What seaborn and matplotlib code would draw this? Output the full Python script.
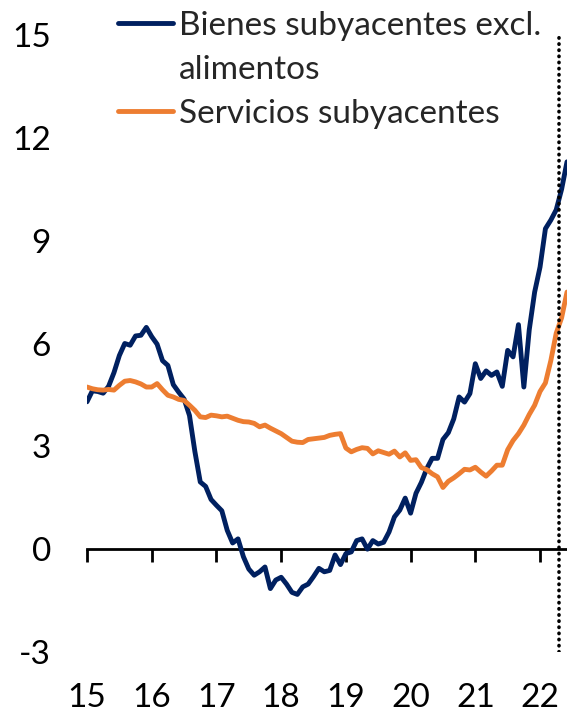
import numpy as np
import pandas as pd
import seaborn as sns
import matplotlib.pyplot as plt
from matplotlib.lines import Line2D

# Variación anual (%), mensual desde enero 2015
bienes = [4.3, 4.62, 4.6, 4.55, 4.75, 5.15, 5.65, 6.0, 5.95, 6.22, 6.24, 6.47,
          6.2, 5.98, 5.5, 5.36, 4.8, 4.58, 4.38, 3.9, 2.85, 1.96, 1.83, 1.45,
          1.28, 1.12, 0.55, 0.18, 0.3, -0.22, -0.58, -0.76, -0.66, -0.52, -1.15, -0.9,
          -0.82, -1.02, -1.26, -1.32, -1.1, -1.02, -0.8, -0.56, -0.66, -0.62, -0.17, -0.45,
          -0.13, -0.08, 0.25, 0.3, 0.0, 0.25, 0.15, 0.2, 0.5, 0.94, 1.14, 1.49,
          1.05, 1.63, 1.95, 2.35, 2.65, 2.65, 3.2, 3.4, 3.8, 4.44, 4.29, 4.54,
          5.41, 4.98, 5.2, 5.07, 5.17, 4.75, 5.8, 5.61, 6.55, 4.73, 6.4, 7.5,
          8.23, 9.35, 9.6, 9.9, 10.5, 11.3]
servicios = [4.73, 4.68, 4.65, 4.64, 4.66, 4.64, 4.78, 4.9, 4.92, 4.88, 4.82, 4.73,
             4.73, 4.83, 4.65, 4.49, 4.44, 4.37, 4.34, 4.2, 4.05, 3.86, 3.84, 3.91,
             3.89, 3.86, 3.88, 3.82, 3.76, 3.72, 3.71, 3.67, 3.57, 3.62, 3.53, 3.45,
             3.37, 3.26, 3.15, 3.12, 3.11, 3.2, 3.22, 3.24, 3.26, 3.32, 3.35, 3.37,
             2.95, 2.84, 2.91, 2.96, 2.94, 2.78, 2.87, 2.82, 2.77, 2.86, 2.69, 2.81,
             2.59, 2.61, 2.38, 2.32, 2.2, 2.11, 1.8, 1.98, 2.08, 2.2, 2.33, 2.31,
             2.39, 2.25, 2.13, 2.28, 2.45, 2.45, 2.9, 3.17, 3.37, 3.62, 3.93, 4.2,
             4.6, 4.85, 5.5, 6.3, 6.75, 7.5]
year_labels = ["15", "16", "17", "18", "19", "20", "21", "22"]
serie_names = ["Bienes subyacentes excl. alimentos", "Servicios subyacentes"]
corte = 87.6  # mes de la línea vertical punteada

navy = "#002060"
orange = "#ED7D31"

meses = np.arange(len(bienes))
df = pd.DataFrame({"mes": meses, serie_names[0]: bienes, serie_names[1]: servicios})
df = df.melt(id_vars="mes", var_name="serie", value_name="valor")

sns.set_theme(style="white")
plt.rcParams["font.family"] = ["Lato", "DejaVu Sans"]
plt.rcParams["axes.unicode_minus"] = False

fig = plt.figure(figsize=(5.67, 7.13), dpi=100)
ax = fig.add_axes([87 / 567, 61 / 713, 480 / 567, 617 / 713])

sns.lineplot(data=df, x="mes", y="valor", hue="serie",
             palette={serie_names[0]: navy, serie_names[1]: orange},
             linewidth=3.5, legend=False, ax=ax)
for ln in ax.get_lines():
    ln.set_solid_joinstyle("round")

ax.axvline(corte, color="black", lw=2.6, linestyle=(0, (0.1, 1.6)),
           dash_capstyle="round")

ax.set_xlim(0, len(bienes) - 1)
ax.set_ylim(-3, 15)
ax.set_yticks([-3, 0, 3, 6, 9, 12, 15])
year_pos = np.arange(len(year_labels)) * 12
ax.set_xticks(year_pos)
ax.set_xticklabels(year_labels)
ax.tick_params(axis="both", length=0, labelsize=24, colors="black")
ax.tick_params(axis="y", pad=26)
ax.tick_params(axis="x", pad=22)
ax.set_xlabel("")
ax.set_ylabel("")
for s in ax.spines.values():
    s.set_visible(False)

# eje en cero con marcas hacia abajo
sec = ax.secondary_xaxis(0, transform=ax.transData)
sec.set_xticks(year_pos)
sec.tick_params(axis="x", direction="out", length=9, width=2, labelbottom=False,
                color="black")
sec.spines["bottom"].set_linewidth(2)
sec.spines["bottom"].set_color("black")

handles = [Line2D([], [], color=navy, lw=3.5),
           Line2D([], [], color="none"),
           Line2D([], [], color=orange, lw=3.5)]
labels = ["Bienes subyacentes excl.", "alimentos", "Servicios subyacentes"]
ax.legend(handles, labels, frameon=False, loc="upper left",
          bbox_to_anchor=(118 / 567, 1 - 11 / 713), bbox_transform=fig.transFigure,
          fontsize=24, handlelength=1.64, handletextpad=0.18, labelspacing=0.42,
          borderpad=0, borderaxespad=0)

fig.savefig("out.png", dpi=100)
